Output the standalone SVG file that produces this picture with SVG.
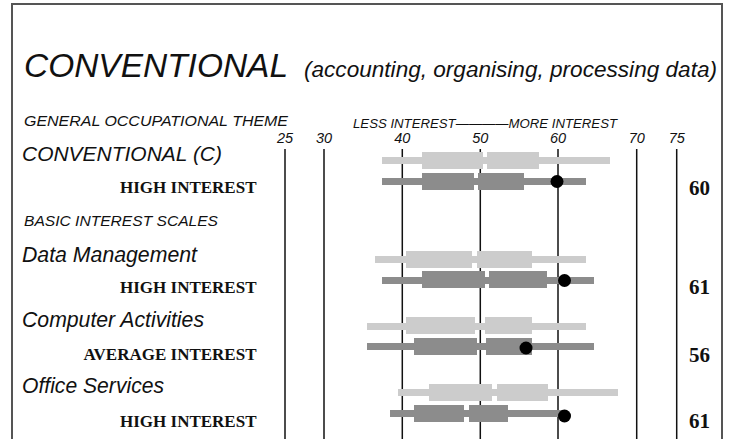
<svg xmlns="http://www.w3.org/2000/svg" width="732" height="439" viewBox="0 0 732 439">
<style>
.sans{font-family:"Liberation Sans",Arial,sans-serif;font-style:italic;fill:#111}
.serif{font-family:"Liberation Serif","Times New Roman",serif;font-weight:bold;fill:#111}
.lt{fill:#cccccc}
.dk{fill:#8c8c8c}
.grid{stroke:#111;stroke-width:1.5}
</style>
<rect width="732" height="439" fill="#ffffff"/>
<rect x="12" y="4" width="710" height="460" fill="none" stroke="#555" stroke-width="2"/>
<g id="header">
<text class="sans" x="24" y="77" font-size="33" textLength="264" lengthAdjust="spacingAndGlyphs">CONVENTIONAL</text>
<text class="sans" x="304" y="77" font-size="22" textLength="413" lengthAdjust="spacingAndGlyphs">(accounting, organising, processing data)</text>
<text class="sans" x="24" y="126" font-size="14.5" textLength="264" lengthAdjust="spacingAndGlyphs">GENERAL OCCUPATIONAL THEME</text>
<text class="sans" x="353" y="127.5" font-size="12.5" textLength="264" lengthAdjust="spacingAndGlyphs">LESS INTEREST————MORE INTEREST</text>
</g>
<g id="axis">
<g class="grid">
<line x1="285" y1="149" x2="285" y2="439"/>
<line x1="324" y1="149" x2="324" y2="439"/>
<line x1="402.3" y1="149" x2="402.3" y2="439"/>
<line x1="480.3" y1="149" x2="480.3" y2="439"/>
<line x1="558" y1="149" x2="558" y2="439"/>
<line x1="636.7" y1="149" x2="636.7" y2="439"/>
<line x1="676.7" y1="149" x2="676.7" y2="439"/>
</g>
<g class="sans" font-size="14.5" text-anchor="middle">
<text x="285" y="143">25</text>
<text x="324" y="143">30</text>
<text x="402.3" y="143">40</text>
<text x="480.3" y="143">50</text>
<text x="558" y="143">60</text>
<text x="636.7" y="143">70</text>
<text x="676.7" y="143">75</text>
</g>
</g>
<g id="conventional">
<text class="sans" x="22" y="161" font-size="20.5" textLength="200" lengthAdjust="spacingAndGlyphs">CONVENTIONAL (C)</text>
<text class="serif" x="256.5" y="193" font-size="17" text-anchor="end">HIGH INTEREST</text>
<rect class="lt" x="382" y="157" width="228" height="7"/>
<rect class="lt" x="422" y="152" width="61" height="17"/>
<rect class="lt" x="487" y="152" width="52" height="17"/>
<rect class="dk" x="382" y="178" width="204" height="7"/>
<rect class="dk" x="422" y="173" width="52" height="17"/>
<rect class="dk" x="478" y="173" width="46" height="17"/>
<circle cx="557" cy="181.5" r="6.5" fill="#000"/>
<text class="serif" x="699.5" y="195" font-size="21" text-anchor="middle">60</text>
</g>
<text class="sans" x="24" y="226" font-size="14" textLength="194" lengthAdjust="spacingAndGlyphs">BASIC INTEREST SCALES</text>
<g id="data-management">
<text class="sans" x="22" y="261.5" font-size="21.5" textLength="175" lengthAdjust="spacingAndGlyphs">Data Management</text>
<text class="serif" x="256.5" y="292.5" font-size="17" text-anchor="end">HIGH INTEREST</text>
<rect class="lt" x="375" y="256" width="211" height="7"/>
<rect class="lt" x="406" y="251" width="66" height="17"/>
<rect class="lt" x="477" y="251" width="55" height="17"/>
<rect class="dk" x="382" y="277" width="212" height="7"/>
<rect class="dk" x="422" y="271" width="63" height="17"/>
<rect class="dk" x="489" y="271" width="58" height="17"/>
<circle cx="564.5" cy="280.5" r="6.5" fill="#000"/>
<text class="serif" x="699.5" y="294" font-size="21" text-anchor="middle">61</text>
</g>
<g id="computer-activities">
<text class="sans" x="22" y="327" font-size="21.5" textLength="182" lengthAdjust="spacingAndGlyphs">Computer Activities</text>
<text class="serif" x="256.5" y="359.5" font-size="17" text-anchor="end">AVERAGE INTEREST</text>
<rect class="lt" x="367" y="323" width="219" height="7"/>
<rect class="lt" x="406" y="317" width="69" height="17"/>
<rect class="lt" x="485" y="317" width="47" height="17"/>
<rect class="dk" x="367" y="343" width="227" height="7"/>
<rect class="dk" x="414" y="338" width="63" height="17"/>
<rect class="dk" x="486" y="338" width="46" height="17"/>
<circle cx="526" cy="348" r="6.5" fill="#000"/>
<text class="serif" x="699.5" y="362" font-size="21" text-anchor="middle">56</text>
</g>
<g id="office-services">
<text class="sans" x="22" y="393" font-size="21.5" textLength="142" lengthAdjust="spacingAndGlyphs">Office Services</text>
<text class="serif" x="256.5" y="426.5" font-size="17" text-anchor="end">HIGH INTEREST</text>
<rect class="lt" x="398" y="389" width="220" height="7"/>
<rect class="lt" x="429" y="384" width="63" height="17"/>
<rect class="lt" x="497" y="384" width="51" height="17"/>
<rect class="dk" x="390" y="410" width="174" height="7"/>
<rect class="dk" x="414" y="405" width="50" height="17"/>
<rect class="dk" x="469" y="405" width="39" height="17"/>
<circle cx="564.5" cy="416" r="6.5" fill="#000"/>
<text class="serif" x="699.5" y="428" font-size="21" text-anchor="middle">61</text>
</g>
</svg>
